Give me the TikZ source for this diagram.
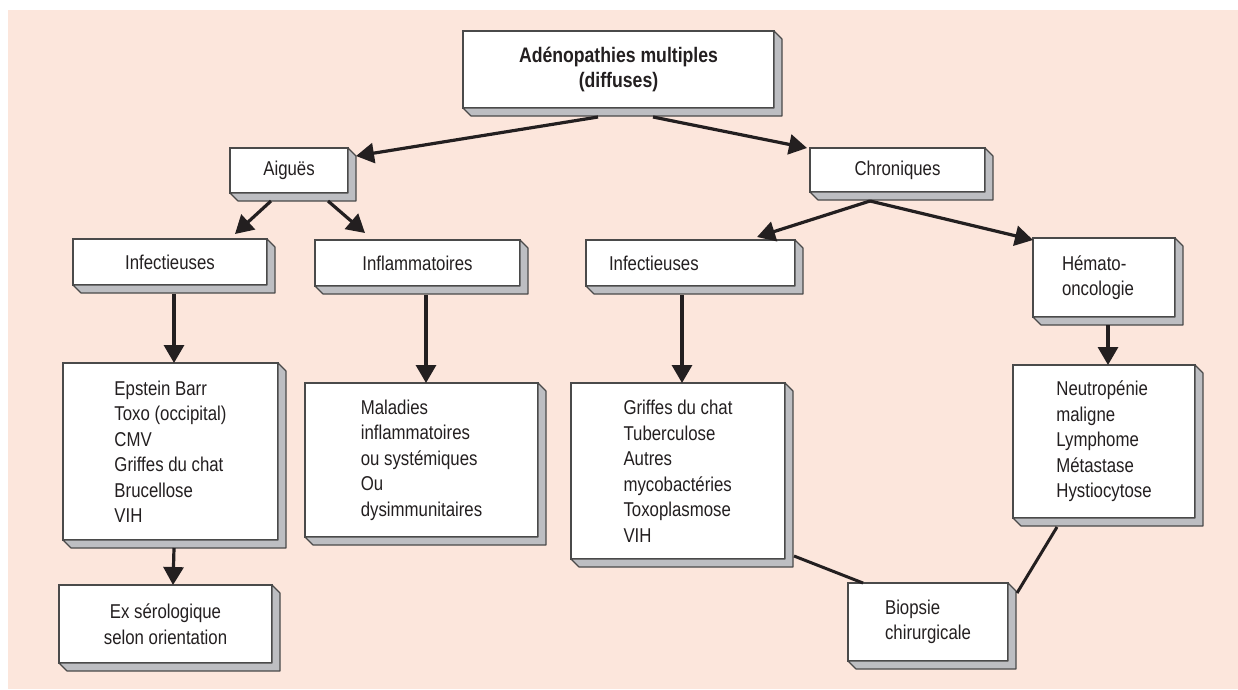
\documentclass[tikz,border=0pt]{standalone}
\usepackage{fontspec}
\setmainfont{Liberation Sans}[FakeStretch=0.84]
\usetikzlibrary{arrows.meta,calc}
\definecolor{bgpink}{HTML}{FCE6DC}
\definecolor{boxline}{HTML}{4A4A4A}
\definecolor{sidegray}{HTML}{BDBEC2}
\definecolor{ink}{HTML}{231F20}

\tikzset{
  box/.style={draw=boxline, fill=white, line width=1.3pt, inner sep=0pt, outer sep=0pt,
    anchor=north west, align=center, text=ink, font=\fontsize{20}{25.5}\selectfont},
  side/.style={draw=boxline, fill=sidegray, line width=1.1pt, line join=round},
  arr/.style={draw=ink, line width=3.2pt, -{Triangle[length=18pt,width=20pt]}},
  link/.style={draw=ink, line width=3pt},
}
% grey bevel on the right and bottom of a box
\newcommand\extrude[1]{%
  \path[side] (#1.north east) -- ++(8,8) -- ([shift={(8,8)}]#1.south east)
    -- ([shift={(8,8)}]#1.south west) -- (#1.south west) -- (#1.south east) -- cycle;}

\begin{document}
\begin{tikzpicture}[x=1pt,y=-1pt]
\useasboundingbox (0,0) rectangle (1238,689);
\fill[bgpink] (8,10) rectangle (1238,689);

% boxes
\node[box, minimum width=311pt, minimum height=77pt,
      font=\fontsize{21}{24.5}\selectfont\bfseries] (top) at (463,31)
  {Adénopathies multiples\\(diffuses)};
\node[box, minimum width=118pt, minimum height=45pt] (aig) at (230,148) {Aiguës};
\node[box, minimum width=175pt, minimum height=44pt] (chr) at (810,148) {Chroniques};
\node[box, minimum width=194pt, minimum height=46pt] (infL) at (73,239) {Infectieuses};
\node[box, minimum width=205pt, minimum height=46pt] (infl) at (315,240) {Inflammatoires};
\node[box, minimum width=209pt, minimum height=46pt, align=left,
      inner xsep=23pt, text width=163pt] (infR) at (586,240) {Infectieuses};
\node[box, minimum width=142pt, minimum height=79pt, align=left,
      inner xsep=29pt, text width=84pt] (hem) at (1033,238) {Hémato-\\oncologie};
\node[box, minimum width=215pt, minimum height=177pt, align=left] (eps) at (63,363)
  {Epstein Barr\\Toxo (occipital)\\CMV\\Griffes du chat\\Brucellose\\VIH};
\node[box, minimum width=233pt, minimum height=154pt, align=left] (mal) at (305,383)
  {Maladies\\inflammatoires\\ou systémiques\\Ou\\dysimmunitaires};
\node[box, minimum width=214pt, minimum height=176pt, align=left] (grR) at (571,383)
  {Griffes du chat\\Tuberculose\\Autres\\mycobactéries\\Toxoplasmose\\VIH};
\node[box, minimum width=182pt, minimum height=153pt, align=left] (neu) at (1013,365)
  {Neutropénie\\maligne\\Lymphome\\Métastase\\Hystiocytose};
\node[box, minimum width=213pt, minimum height=78pt] (ser) at (59,585)
  {Ex sérologique\\selon orientation};
\node[box, minimum width=160pt, minimum height=78pt, align=left] (bio) at (848,583)
  {Biopsie\\chirurgicale};

\foreach \b in {top,aig,chr,infL,infl,infR,hem,eps,mal,grR,neu,ser,bio}{\extrude{\b}}

% connectors
\draw[arr] ($(top.south west)+(135,9)$) -- ([shift={(8,8)}]aig.north east);
\draw[arr] ($(top.south west)+(190,9)$) -- ([shift={(-3,0)}]chr.north west);
\draw[arr] ($(aig.south west)+(41,8)$) -- ($(infL.north west)+(162,-5)$);
\draw[arr] ($(aig.south west)+(98,8)$) -- ($(infl.north west)+(50,-7)$);
\draw[arr] ($(chr.south west)+(60,9)$) -- ($(infR.north east)+(-38,-3)$);
\draw[arr] ($(chr.south west)+(60,9)$) -- ([shift={(0,2)}]hem.north west);
\draw[arr] ([shift={(4,9)}]infL.south) -- ([shift={(3.5,0)}]eps.north);
\draw[arr] ([shift={(8.5,9)}]infl.south) -- ([shift={(4.5,0)}]mal.north);
\draw[arr] ([shift={(-8.5,9)}]infR.south) -- ([shift={(4,0)}]grR.north);
\draw[arr] ([shift={(4,8)}]hem.south) -- ([shift={(4,0)}]neu.north);
\draw[arr] ([shift={(3.5,8)}]eps.south) -- ([shift={(-1,0)}]ser.north -| {$(eps.south)+(3.5,0)$});
\draw[link] ($(grR.south east)+(9,-3)$) -- ($(bio.north west)+(15,0)$);
\draw[link] ($(neu.south west)+(44,9)$) -- ([shift={(9,10)}]bio.north east);
\end{tikzpicture}
\end{document}
